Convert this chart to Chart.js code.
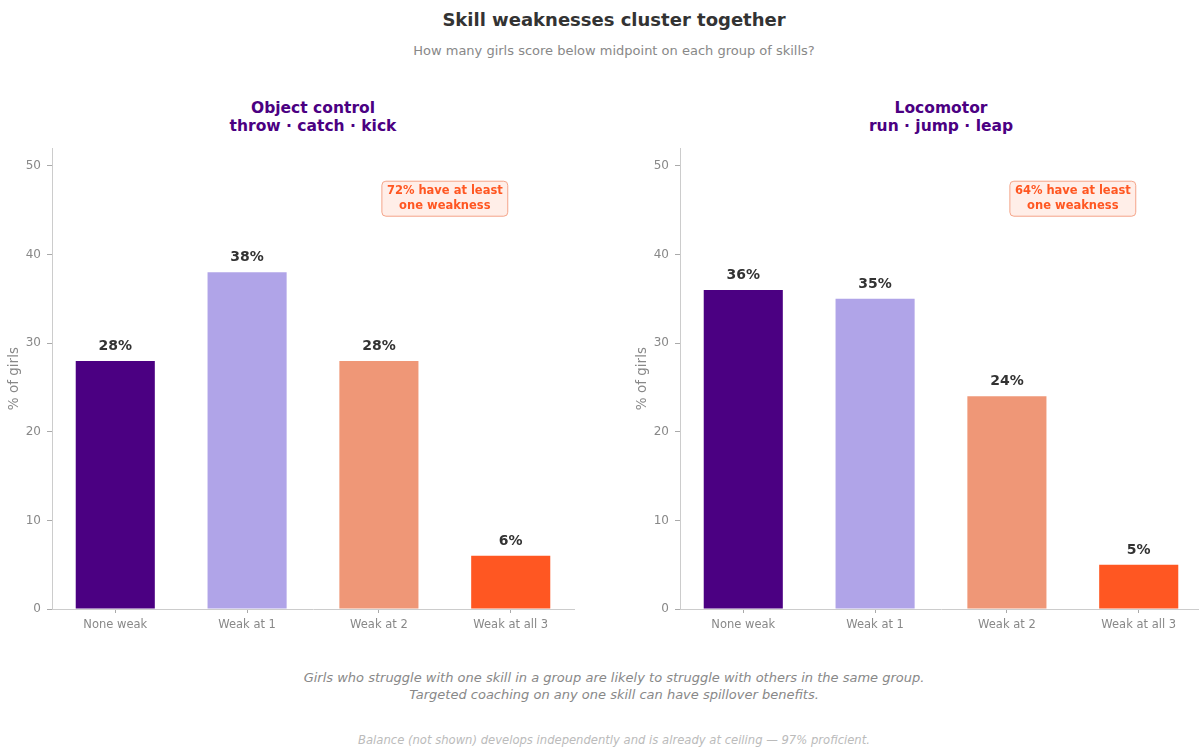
<!DOCTYPE html>
<html>
<head>
<meta charset="utf-8">
<script src="https://cdn.jsdelivr.net/npm/chart.js@4"></script>
<style>
  html, body { margin: 0; padding: 0; background: #fff; }
  body { width: 1199px; height: 749px; position: relative; overflow: hidden; font-family: "DejaVu Sans", sans-serif; }
  .txt { position: absolute; text-align: center; white-space: nowrap; transform: translateX(-50%); }
  #title { left: 614px; top: 9px; font-size: 18px; line-height: 22px; font-weight: bold; color: #333; }
  #subtitle { left: 614px; top: 43px; font-size: 13px; line-height: 16px; color: #888; }
  .panelTitle { top: 99px; font-size: 15.5px; line-height: 18px; font-weight: bold; color: #4B0082; }
  #footnote { left: 614px; top: 669px; font-size: 13px; line-height: 17px; font-style: italic; color: #888; }
  #balance { left: 614px; top: 733px; font-size: 11.6px; line-height: 14px; font-style: italic; color: #bbb; }
  canvas { position: absolute; top: 135px; }
</style>
</head>
<body>
<div id="title" class="txt">Skill weaknesses cluster together</div>
<div id="subtitle" class="txt">How many girls score below midpoint on each group of skills?</div>
<div class="txt panelTitle" style="left:313px">Object control<br>throw · catch · kick</div>
<div class="txt panelTitle" style="left:941px">Locomotor<br>run · jump · leap</div>
<canvas id="objectChart" width="580" height="504" style="left:0px"></canvas>
<canvas id="locoChart" width="580" height="504" style="left:628px"></canvas>
<div id="footnote" class="txt">Girls who struggle with one skill in a group are likely to struggle with others in the same group.<br>Targeted coaching on any one skill can have spillover benefits.</div>
<div id="balance" class="txt">Balance (not shown) develops independently and is already at ceiling — 97% proficient.</div>

<script>
// categories and values (% of girls)
const categories = ['None weak', 'Weak at 1', 'Weak at 2', 'Weak at all 3'];
const objectValues = [28, 38, 28, 6];
const locoValues = [36, 35, 24, 5];
const barColors = ['#4B0082', '#B0A4E8', '#EF9777', '#FF5722'];
const yTicks = [0, 10, 20, 30, 40, 50];
const objectNote = ['72% have at least', 'one weakness'];
const locoNote = ['64% have at least', 'one weakness'];

// percentage labels above each bar
const barLabels = {
    id: 'barLabels',
    afterDatasetsDraw(chart) {
        const ctx = chart.ctx;
        const meta = chart.getDatasetMeta(0);
        const values = chart.data.datasets[0].data;
        ctx.save();
        ctx.font = 'bold 14px "DejaVu Sans"';
        ctx.fillStyle = '#333';
        ctx.textAlign = 'center';
        ctx.textBaseline = 'alphabetic';
        meta.data.forEach((bar, i) => {
            ctx.fillText(values[i].y + '%', bar.x, bar.y - 11);
        });
        ctx.restore();
    }
};

// rounded callout box with the "at least one" total
const noteBox = {
    id: 'noteBox',
    afterDraw(chart, args, opts) {
        if (!opts.lines) return;
        const ctx = chart.ctx;
        const cx = chart.scales.x.getPixelForValue(opts.x);
        const cy = chart.scales.y.getPixelForValue(opts.y);
        ctx.save();
        ctx.font = 'bold 11.5px "DejaVu Sans"';
        const w = Math.max(...opts.lines.map(l => ctx.measureText(l).width)) + 10;
        const h = 35;
        ctx.beginPath();
        ctx.roundRect(cx - w / 2, cy - h / 2, w, h, 4);
        ctx.fillStyle = '#FFEEE8';
        ctx.fill();
        ctx.strokeStyle = '#F4A58A';
        ctx.lineWidth = 1;
        ctx.stroke();
        ctx.fillStyle = '#FF5722';
        ctx.textAlign = 'center';
        ctx.textBaseline = 'middle';
        ctx.fillText(opts.lines[0], cx, cy - 7.5);
        ctx.fillText(opts.lines[1], cx, cy + 7.5);
        ctx.restore();
    }
};

const makeChart = (canvasId, values, note) => {
    const ctx = document.getElementById(canvasId).getContext('2d');
    return new Chart(ctx, {
        type: 'bar',
        data: {
            datasets: [{
                data: values.map((v, i) => ({x: i, y: v})),
                backgroundColor: barColors,
                borderWidth: 0,
                categoryPercentage: 1,
                barPercentage: 0.6
            }]
        },
        options: {
            responsive: false,
            animation: false,
            layout: {padding: {top: 10, right: 6, left: 0, bottom: 0}},
            plugins: {
                legend: {display: false},
                tooltip: {enabled: false},
                noteBox: {lines: note, x: 2.5, y: 46.3}
            },
            scales: {
                x: {
                    type: 'linear',
                    offset: false,
                    min: -0.48,
                    max: 3.48,
                    afterBuildTicks: axis => { axis.ticks = categories.map((c, i) => ({value: i})); },
                    afterFit: scale => { scale.height = 30; },
                    ticks: {
                        autoSkip: false,
                        maxRotation: 0,
                        padding: 5,
                        color: '#888',
                        font: {family: 'DejaVu Sans', size: 11.5},
                        callback: v => categories[v]
                    },
                    grid: {display: true, offset: false, drawOnChartArea: false, tickLength: 4, color: '#aaa'},
                    border: {display: true, color: '#ccc'}
                },
                y: {
                    min: 0,
                    max: 52,
                    afterBuildTicks: axis => { axis.ticks = yTicks.map(v => ({value: v})); },
                    afterFit: scale => { scale.width = 52; },
                    ticks: {
                        padding: 6,
                        color: '#888',
                        font: {family: 'DejaVu Sans', size: 12}
                    },
                    grid: {display: true, drawOnChartArea: false, tickLength: 5, color: '#aaa'},
                    border: {display: true, color: '#ccc'},
                    title: {
                        display: true,
                        text: '% of girls',
                        color: '#888',
                        padding: {top: 6, bottom: 0},
                        font: {family: 'DejaVu Sans', size: 13.5}
                    }
                }
            }
        },
        plugins: [barLabels, noteBox]
    });
};

makeChart('objectChart', objectValues, objectNote);
makeChart('locoChart', locoValues, locoNote);
</script>
</body>
</html>
